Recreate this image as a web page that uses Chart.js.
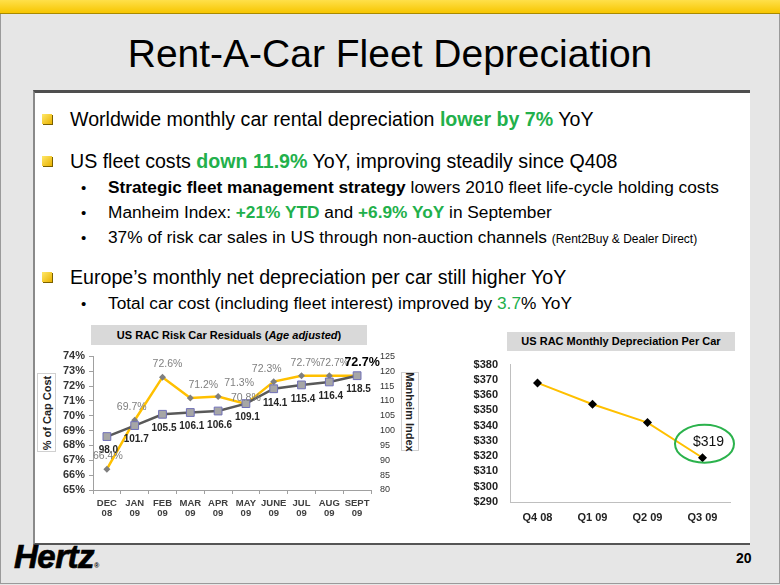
<!DOCTYPE html>
<html>
<head>
<meta charset="utf-8">
<script src="https://cdn.jsdelivr.net/npm/chart.js@4.4.0/dist/chart.umd.min.js"></script>
<style>
  body { margin: 0; width: 780px; height: 585px; overflow: hidden; background: #e6e6e6;
         font-family: "Liberation Sans", Arial, sans-serif; position: relative; color: #000; }
  .abs { position: absolute; white-space: nowrap; }
  .topbar { left: 0; top: 0; width: 780px; height: 13px; background: linear-gradient(#ffe04a, #f7c600);
            border-bottom: 1px solid #a88a00; }
  .frame { left: 0; top: 14px; width: 778px; height: 569px; border: 1px solid #9a9a9a; border-top: none; }
  .title { left: 0; width: 780px; top: 34px; text-align: center; font-size: 39px; line-height: 39px; }
  .panel { left: 33px; top: 90px; width: 715px; height: 450px; background: #fff;
           border-top: 3px solid #4f4f4f; border-left: 2px solid #8a8a8a; border-bottom: 2px solid #555; }
  .sq { width: 10px; height: 10px; background: linear-gradient(135deg, #ffe86a, #e9b200);
        box-shadow: 1px 1px 0 #7a6000; }
  .l1 { font-size: 19.6px; line-height: 19.6px; }
  .l2 { font-size: 17.3px; line-height: 17.3px; }
  .dot { font-size: 15px; line-height: 17px; }
  .g { color: #22b04b; font-weight: bold; }
  .gn { color: #22b04b; }
  .hdr { background: #d9d9d9; text-align: center; font-size: 11px; font-weight: bold; }
  .ytitle { background: #fff; border: 1px solid #d0d0d0; font-size: 11px; font-weight: bold; color: #222; }
  .ytitle span { position: absolute; left: 50%; top: 50%; white-space: nowrap; }
  canvas { position: absolute; }
</style>
</head>
<body>
<div class="abs topbar"></div>
<div class="abs frame"></div>
<div class="abs title">Rent-A-Car Fleet Depreciation</div>
<div class="abs panel"></div>

<div class="abs sq" style="left:42px;top:114px"></div>
<div class="abs l1" style="left:70px;top:110px">Worldwide monthly car rental depreciation <span class="g">lower by 7%</span> YoY</div>
<div class="abs sq" style="left:42px;top:156px"></div>
<div class="abs l1" style="left:70px;top:152px">US fleet costs <span class="g">down 11.9%</span> YoY, improving steadily since Q408</div>
<div class="abs dot" style="left:81px;top:179px">•</div>
<div class="abs l2" style="left:108px;top:179px"><b>Strategic fleet management strategy</b> lowers 2010 fleet life-cycle holding costs</div>
<div class="abs dot" style="left:81px;top:204px">•</div>
<div class="abs l2" style="left:108px;top:204px">Manheim Index: <span class="g">+21% YTD</span> and <span class="g">+6.9% YoY</span> in September</div>
<div class="abs dot" style="left:81px;top:229px">•</div>
<div class="abs l2" style="left:108px;top:229px">37% of risk car sales in US through non-auction channels <span style="font-size:12px">(Rent2Buy &amp; Dealer Direct)</span></div>
<div class="abs sq" style="left:42px;top:272px"></div>
<div class="abs l1" style="left:70px;top:268px">Europe’s monthly net depreciation per car still higher YoY</div>
<div class="abs dot" style="left:81px;top:295px">•</div>
<div class="abs l2" style="left:108px;top:295px">Total car cost (including fleet interest) improved by <span class="gn">3.7</span>% YoY</div>

<div class="abs hdr" style="left:91px;top:325px;width:276px;height:20px;line-height:20px">US RAC Risk Car Residuals (<i>Age adjusted</i>)</div>
<div class="abs hdr" style="left:507px;top:332px;width:228px;height:19px;line-height:19px">US RAC Monthly Depreciation Per Car</div>

<div class="abs ytitle" style="left:37px;top:373px;width:17px;height:77px"><span style="transform:translate(-50%,-50%) rotate(-90deg)">% of Cap Cost</span></div>
<div class="abs ytitle" style="left:401px;top:372px;width:16px;height:77px"><span style="transform:translate(-50%,-50%) rotate(90deg)">Manheim Index</span></div>

<canvas id="residuals" width="392" height="182" style="left:30px;top:342px"></canvas>
<canvas id="depreciation" width="300" height="180" style="left:440px;top:346px"></canvas>

<div class="abs" style="left:14px;top:540px;font-size:33px;line-height:33px;font-weight:bold;font-style:italic;letter-spacing:-0.5px;-webkit-text-stroke:0.7px #000">Hertz<span style="font-size:7px;letter-spacing:0;-webkit-text-stroke:0">®</span></div>
<div class="abs" style="left:736px;top:551px;font-size:14px;line-height:14px;font-weight:bold">20</div>

<script>
// Left chart data
const months = [['DEC', '08'], ['JAN', '09'], ['FEB', '09'], ['MAR', '09'], ['APR', '09'],
                ['MAY', '09'], ['JUNE', '09'], ['JUL', '09'], ['AUG', '09'], ['SEPT', '09']];
const capCostPct = [66.4, 69.7, 72.6, 71.2, 71.3, 70.8, 72.3, 72.7, 72.7, 72.7];
const manheimIndex = [98.0, 101.7, 105.5, 106.1, 106.6, 109.1, 114.1, 115.4, 116.4, 118.5];

// Right chart data
const quarters = ['Q4 08', 'Q1 09', 'Q2 09', 'Q3 09'];
const deprPerCar = [368, 354, 342, 319];

const FONT = '"Liberation Sans", Arial, sans-serif';
Chart.defaults.font.family = FONT;

// hand placement of the % labels, as on the slide
const pctShiftX = [1, -3, 5, 13, 21, 0, -7, 4, 5, 5];
const pctShiftY = [-13, -13, -13, -13, -13, -6, -13, -13, -13, -13];

const residualLabels = {
    id: 'residualLabels',
    afterDatasetsDraw(chart) {
        const ctx = chart.ctx;
        ctx.save();
        ctx.textAlign = 'center';
        ctx.textBaseline = 'middle';
        const idx = chart.getDatasetMeta(0);
        idx.data.forEach((pt, i) => {
            ctx.font = 'bold 10px ' + FONT;
            ctx.fillStyle = '#262626';
            ctx.fillText(manheimIndex[i].toFixed(1), pt.x + 1.5, pt.y + 14);
        });
        const pct = chart.getDatasetMeta(1);
        pct.data.forEach((pt, i) => {
            const last = i === pct.data.length - 1;
            ctx.font = (last ? 'bold 12.5px ' : '10.5px ') + FONT;
            ctx.fillStyle = last ? '#000' : '#7f7f7f';
            ctx.fillText(capCostPct[i].toFixed(1) + '%', pt.x + pctShiftX[i], pt.y + pctShiftY[i]);
        });
        ctx.restore();
    }
};

new Chart(document.getElementById('residuals'), {
    type: 'line',
    data: {
        labels: months,
        datasets: [{
            label: 'Manheim Index',
            data: manheimIndex,
            yAxisID: 'y2',
            borderColor: '#595959',
            borderWidth: 2.5,
            pointStyle: 'rect',
            pointRadius: 5.5,
            pointBackgroundColor: '#a6a6a6',
            pointBorderColor: '#7070b8',
            pointBorderWidth: 1,
            tension: 0
        }, {
            label: '% of Cap Cost',
            data: capCostPct,
            yAxisID: 'y',
            borderColor: '#ffc000',
            borderWidth: 2.5,
            pointStyle: 'rectRot',
            pointRadius: 3.5,
            pointBackgroundColor: '#7f7f7f',
            pointBorderColor: '#7f7f7f',
            pointBorderWidth: 0,
            tension: 0
        }]
    },
    options: {
        responsive: false,
        animation: false,
        devicePixelRatio: 1,
        layout: { padding: { top: 10, left: 0, right: 0, bottom: 0 } },
        plugins: { legend: { display: false }, tooltip: { enabled: false } },
        scales: {
            x: {
                offset: true,
                grid: { drawOnChartArea: false, drawTicks: true, tickLength: 4, offset: true, color: '#a0a0a0' },
                border: { color: '#a0a0a0' },
                ticks: { autoSkip: false, maxRotation: 0, padding: 5, color: '#404040',
                         font: { size: 9.5, weight: 'bold', lineHeight: 1.0 } },
                afterFit: s => { s.height = 34; }
            },
            y: {
                position: 'left',
                min: 65, max: 74,
                grid: { drawOnChartArea: false, drawTicks: true, tickLength: 4, color: '#a0a0a0' },
                border: { color: '#a0a0a0' },
                ticks: { autoSkip: false, stepSize: 1, padding: 4, color: '#333', font: { size: 11, weight: 'bold' },
                         callback: v => v + '%' },
                afterFit: s => { s.width = 63; }
            },
            y2: {
                position: 'right',
                min: 80, max: 125,
                grid: { display: false, drawTicks: false },
                border: { display: false },
                ticks: { autoSkip: false, stepSize: 5, padding: 9, color: '#333', font: { size: 9 } },
                afterFit: s => { s.width = 51; }
            }
        }
    },
    plugins: [residualLabels]
});

// green ring around the latest quarter
const ringLatest = {
    id: 'ringLatest',
    afterDatasetsDraw(chart) {
        const meta = chart.getDatasetMeta(0);
        const pt = meta.data[meta.data.length - 1];
        const ctx = chart.ctx;
        ctx.save();
        ctx.beginPath();
        ctx.ellipse(pt.x + 2, pt.y - 14, 29.5, 19, 0, 0, Math.PI * 2);
        ctx.strokeStyle = '#2bb24c';
        ctx.lineWidth = 2;
        ctx.stroke();
        ctx.font = '14px ' + FONT;
        ctx.fillStyle = '#111';
        ctx.textAlign = 'center';
        ctx.textBaseline = 'middle';
        ctx.fillText('$' + deprPerCar[deprPerCar.length - 1], pt.x + 6, pt.y - 16);
        ctx.restore();
    }
};

new Chart(document.getElementById('depreciation'), {
    type: 'line',
    data: {
        labels: quarters,
        datasets: [{
            label: 'Monthly depreciation per car',
            data: deprPerCar,
            borderColor: '#ffc000',
            borderWidth: 2,
            pointStyle: 'rectRot',
            pointRadius: 4.5,
            pointBackgroundColor: '#000',
            pointBorderColor: '#000',
            pointBorderWidth: 0,
            tension: 0
        }]
    },
    options: {
        responsive: false,
        animation: false,
        devicePixelRatio: 1,
        layout: { padding: { top: 11, right: 10, left: 0, bottom: 0 } },
        plugins: { legend: { display: false }, tooltip: { enabled: false } },
        scales: {
            x: {
                offset: true,
                grid: { display: false, drawTicks: false },
                border: { color: '#bfbfbf' },
                ticks: { padding: 9, color: '#222', font: { size: 11, weight: 'bold' } },
                afterFit: s => { s.height = 24; }
            },
            y: {
                min: 290, max: 380,
                grid: { display: false, drawTicks: false },
                border: { color: '#bfbfbf' },
                ticks: { autoSkip: false, stepSize: 10, padding: 12, color: '#222', font: { size: 11, weight: 'bold' },
                         callback: v => '$' + v },
                afterFit: s => { s.width = 70; }
            }
        }
    },
    plugins: [ringLatest]
});
</script>
</body>
</html>
